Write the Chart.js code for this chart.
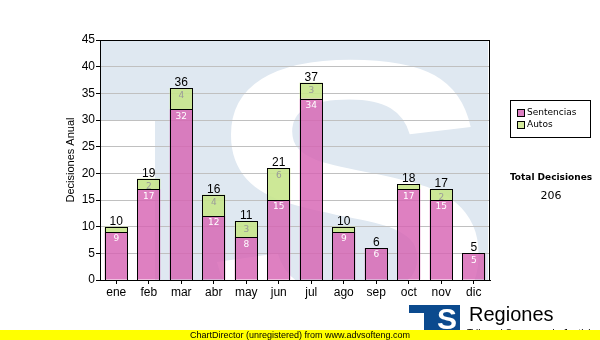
<!DOCTYPE html>
<html>
<head>
<meta charset="utf-8">
<script src="https://cdn.jsdelivr.net/npm/chart.js@4.4.1/dist/chart.umd.min.js"></script>
<style>
  html, body { margin: 0; padding: 0; background: #fff; }
  #c { display: block; }
</style>
</head>
<body>
<canvas id="c" width="600" height="340"></canvas>
<script>
// Monthly decisions, split by type
const months = ['ene', 'feb', 'mar', 'abr', 'may', 'jun', 'jul', 'ago', 'sep', 'oct', 'nov', 'dic'];
const sentencias = [9, 17, 32, 12, 8, 15, 34, 9, 6, 17, 15, 5];
const autos = [1, 2, 4, 4, 3, 6, 3, 1, 0, 1, 2, 0];
const yTicks = [0, 5, 10, 15, 20, 25, 30, 35, 40, 45];
const seriesNames = ['Sentencias', 'Autos'];

const totals = months.map((m, i) => sentencias[i] + autos[i]);
const grandTotal = totals.reduce((a, b) => a + b, 0);

const PINK = 'rgba(214, 96, 178, 0.80)';
const GREEN = 'rgba(200, 230, 140, 0.90)';
const SANS = '"Liberation Sans", Arial, sans-serif';
const VERD = '"DejaVu Sans", Verdana, sans-serif';

// Faded logo behind the plot area
const watermark = {
  id: 'watermark',
  beforeDraw(chart) {
    const { ctx, chartArea: a } = chart;
    const w = a.right - a.left, h = a.bottom - a.top;
    ctx.save();
    ctx.fillStyle = '#fff';
    ctx.fillRect(0, 0, chart.width, chart.height);
    ctx.beginPath();
    ctx.rect(a.left, a.top, w, h);
    ctx.clip();
    ctx.fillStyle = '#dfe8f1';
    ctx.fillRect(a.left, a.top, w - 2, h);
    ctx.fillStyle = '#fff';
    ctx.fillRect(a.left, a.top + 80, 55, h);
    ctx.font = 'bold 390px ' + SANS;
    ctx.textAlign = 'center';
    ctx.textBaseline = 'alphabetic';
    ctx.translate(a.left + 250, a.top + 292);
    ctx.scale(1.12, 1);
    ctx.fillText('S', 0, 0);
    ctx.restore();
  }
};

// Bar outlines, value labels, plot frame, legend, totals and footer
const overlay = {
  id: 'overlay',
  afterDatasetsDraw(chart) {
    const { ctx, chartArea: a } = chart;
    ctx.save();
    ctx.strokeStyle = '#000';
    ctx.lineWidth = 1;
    ctx.strokeRect(a.left + 0.5, a.top + 0.5, a.right - a.left - 1, a.bottom - a.top);

    const m0 = chart.getDatasetMeta(0).data;
    const m1 = chart.getDatasetMeta(1).data;
    // crisp one-pixel outlines on pixel boundaries
    [m0, m1].forEach((meta, d) => {
      meta.forEach((bar, i) => {
        const v = d === 0 ? sentencias[i] : autos[i];
        if (!v) return;
        const l = Math.round(bar.x - bar.width / 2);
        const r = Math.round(bar.x + bar.width / 2);
        const t = Math.round(bar.y);
        const b = Math.round(bar.base);
        ctx.strokeRect(l + 0.5, t + 0.5, r - l - 1, b - t);
      });
    });

    ctx.textAlign = 'center';
    ctx.textBaseline = 'middle';
    ctx.font = '9px ' + VERD;
    m0.forEach((bar, i) => {
      ctx.fillStyle = '#fff';
      ctx.fillText(String(sentencias[i]), bar.x, bar.y + 7);
    });
    m1.forEach((bar, i) => {
      if (autos[i] >= 2) {
        ctx.fillStyle = '#9a9a9a';
        ctx.fillText(String(autos[i]), bar.x, bar.y + 8);
      }
    });
    ctx.font = '12px ' + SANS;
    ctx.fillStyle = '#000';
    ctx.textBaseline = 'alphabetic';
    m1.forEach((bar, i) => {
      ctx.fillText(String(totals[i]), bar.x, Math.round(bar.y) - 2);
    });
    ctx.restore();
  },
  afterDraw(chart) {
    const { ctx } = chart;
    ctx.save();
    // legend
    ctx.fillStyle = '#fff';
    ctx.fillRect(510.5, 100.5, 80, 37);
    ctx.strokeStyle = '#000';
    ctx.lineWidth = 1;
    ctx.strokeRect(510.5, 100.5, 80, 37);
    const colors = ['#dc7fc2', '#d4eb9c'];
    ctx.font = '9px ' + VERD;
    ctx.textBaseline = 'middle';
    ctx.textAlign = 'left';
    seriesNames.forEach((name, i) => {
      const y = 113 + i * 12;
      ctx.fillStyle = colors[i];
      ctx.fillRect(517.5, y - 3.5, 7, 7);
      ctx.strokeStyle = '#000';
      ctx.strokeRect(517.5, y - 3.5, 7, 7);
      ctx.fillStyle = '#000';
      ctx.fillText(name, 527, y);
    });
    // total
    ctx.textAlign = 'center';
    ctx.font = 'bold 9px ' + VERD;
    ctx.fillText('Total Decisiones', 551, 178);
    ctx.font = '11px ' + VERD;
    ctx.fillText(String(grandTotal), 551, 196);

    // logo
    ctx.fillStyle = '#0b4a8e';
    ctx.fillRect(409, 305, 51, 27);
    ctx.fillStyle = '#fff';
    ctx.fillRect(409, 313, 15, 20);
    ctx.font = 'bold 30px ' + SANS;
    ctx.fillText('S', 447, 321);
    ctx.fillStyle = '#000';
    ctx.textAlign = 'left';
    ctx.font = '20px ' + SANS;
    ctx.fillText('Regiones', 469, 315);
    ctx.font = '10px ' + SANS;
    ctx.fillText('Tribunal Supremo de Justicia', 467, 334);

    // footer band
    ctx.fillStyle = '#ffff00';
    ctx.fillRect(0, 330, 600, 10);
    ctx.fillStyle = '#000';
    ctx.font = '9px ' + SANS;
    ctx.fillText('ChartDirector (unregistered) from www.advsofteng.com', 190, 335.5);
    ctx.restore();
  }
};

new Chart(document.getElementById('c'), {
  type: 'bar',
  data: {
    labels: months,
    datasets: [
      { label: seriesNames[0], data: sentencias, backgroundColor: PINK, borderWidth: 0 },
      { label: seriesNames[1], data: autos, backgroundColor: GREEN, borderWidth: 0 }
    ]
  },
  options: {
    responsive: false,
    animation: false,
    events: [],
    layout: { padding: { left: 62, top: 40, right: 110, bottom: 0 } },
    datasets: { bar: { categoryPercentage: 1, barPercentage: 0.71 } },
    plugins: { legend: { display: false }, tooltip: { enabled: false } },
    scales: {
      x: {
        stacked: true,
        offset: true,
        afterFit(s) { s.height = 60; },
        grid: { offset: false, drawOnChartArea: false, tickLength: 4, tickColor: '#000' },
        border: { color: '#000' },
        ticks: { color: '#000', font: { family: SANS, size: 12 }, padding: 1, maxRotation: 0 }
      },
      y: {
        stacked: true,
        min: 0,
        max: 45,
        afterFit(s) { s.width = 38; },
        afterBuildTicks(s) { s.ticks = yTicks.map(v => ({ value: v })); },
        grid: { color: '#c0c0c0', tickLength: 4, tickColor: '#000' },
        border: { color: '#000' },
        ticks: { color: '#000', font: { family: SANS, size: 12 }, padding: 1 },
        title: { display: true, text: 'Decisiones Anual', color: '#000', font: { family: SANS, size: 11 }, padding: { top: 2, bottom: 2 } }
      }
    }
  },
  plugins: [watermark, overlay]
});
</script>
</body>
</html>
